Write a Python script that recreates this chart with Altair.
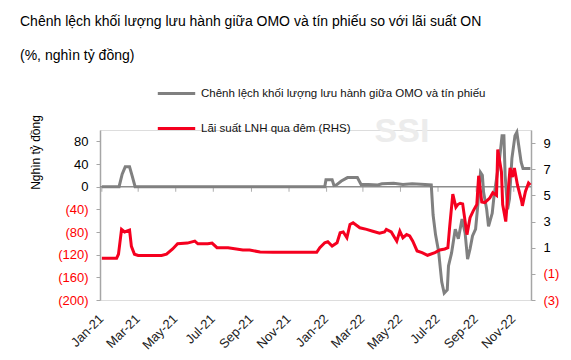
import altair as alt
import pandas as pd

FONT = "Liberation Sans, Arial, sans-serif"

gap_name = "Chênh lệch khối lượng lưu hành giữa OMO và tín phiếu"
rate_name = "Lãi suất LNH qua đêm (RHS)"

gap_dates = [
    "2021-01-01", "2021-01-29", "2021-02-03", "2021-02-08", "2021-02-15", "2021-02-19", "2021-02-24",
    "2021-06-01", "2021-10-01", "2021-12-29", "2021-12-31", "2022-01-10", "2022-01-13", "2022-01-17",
    "2022-01-25", "2022-02-04", "2022-02-20", "2022-02-26", "2022-03-10", "2022-03-25", "2022-04-01",
    "2022-04-20", "2022-05-05", "2022-05-20", "2022-06-10", "2022-06-20", "2022-06-23", "2022-06-27",
    "2022-07-02", "2022-07-07", "2022-07-11", "2022-07-16", "2022-07-18", "2022-07-23", "2022-07-29",
    "2022-08-03", "2022-08-09", "2022-08-14", "2022-08-18", "2022-08-22", "2022-08-26", "2022-08-31",
    "2022-09-03", "2022-09-08", "2022-09-11", "2022-09-13", "2022-09-18", "2022-09-21", "2022-09-27",
    "2022-09-30", "2022-10-04", "2022-10-09", "2022-10-13", "2022-10-16", "2022-10-18", "2022-10-22",
    "2022-10-25", "2022-10-29", "2022-11-03", "2022-11-06", "2022-11-09", "2022-11-13", "2022-11-16",
    "2022-11-23", "2022-11-28",
]
gap_values = [
    0, 0, 22, 35, 35, 20, 0,
    0, 0, 0, 12, 12, 2, 3,
    10, 16, 16, 4, 4, 3, 5,
    6, 4, 5, 4, 3, -50, -85,
    -115, -168, -188, -182, -140, -117, -75,
    -92, -57, -82, -128, -110, -87, -75,
    -40, 25, 20, -10, -40, -70, -47,
    -16, 14, 50, 90, 90, 20, -40,
    -22, 50, 90, 96, 73, 43, 32,
    32, 32,
]

rate_dates = [
    "2021-01-01", "2021-01-25", "2021-01-28", "2021-02-02", "2021-02-07", "2021-02-15", "2021-02-18",
    "2021-02-23", "2021-03-01", "2021-04-08", "2021-04-16", "2021-04-26", "2021-05-04", "2021-05-20",
    "2021-06-01", "2021-06-06", "2021-06-22", "2021-06-29", "2021-07-07", "2021-07-25", "2021-08-18",
    "2021-08-29", "2021-09-15", "2021-10-06", "2021-12-16", "2021-12-21", "2021-12-29", "2022-01-03",
    "2022-01-10", "2022-01-18", "2022-01-23", "2022-01-28", "2022-02-03", "2022-02-08", "2022-02-13",
    "2022-02-24", "2022-03-07", "2022-03-17", "2022-03-28", "2022-04-05", "2022-04-08", "2022-04-16",
    "2022-04-25", "2022-04-30", "2022-05-05", "2022-05-11", "2022-05-16", "2022-05-21", "2022-05-28",
    "2022-06-05", "2022-06-14", "2022-06-26", "2022-07-04", "2022-07-12", "2022-07-17", "2022-07-20",
    "2022-07-25", "2022-07-30", "2022-08-02", "2022-08-06", "2022-08-10", "2022-08-17", "2022-08-22",
    "2022-08-27", "2022-09-02", "2022-09-05", "2022-09-10", "2022-09-15", "2022-09-23", "2022-09-28",
    "2022-10-04", "2022-10-06", "2022-10-12", "2022-10-14", "2022-10-19", "2022-10-22", "2022-10-26",
    "2022-10-30", "2022-11-02", "2022-11-07", "2022-11-14", "2022-11-15", "2022-11-20", "2022-11-25",
    "2022-11-28",
]
rate_values = [
    0.2, 0.2, 0.5, 2.4, 2.2, 2.35, 1.1,
    0.5, 0.4, 0.4, 0.5, 0.9, 1.3, 1.35,
    1.5, 1.3, 1.3, 1.35, 1.0, 1.0, 0.82,
    0.82, 0.67, 0.65, 0.65, 1.0, 1.38, 1.46,
    1.13, 1.38, 2.14, 2.2, 1.76, 2.78, 2.9,
    2.52, 2.4, 2.26, 2.1, 2.2, 2.4, 2.2,
    1.5, 2.27, 1.76, 2.0, 1.9, 1.5, 0.75,
    0.62, 0.42, 0.62, 0.82, 0.9, 1.0, 2.65,
    5.1, 4.1, 4.3, 4.4, 4.35, 2.0, 3.3,
    3.8, 4.3, 6.5, 4.5, 4.45, 4.8, 5.2,
    5.0, 8.5, 6.8, 4.3, 3.0, 4.8, 7.1,
    6.4, 7.1, 5.8, 4.5, 4.2, 5.3, 5.95,
    5.8,
]

tick_dates = ["2021-01-01", "2021-03-01", "2021-05-01", "2021-07-01", "2021-09-01", "2021-11-01",
              "2022-01-01", "2022-03-01", "2022-05-01", "2022-07-01", "2022-09-01", "2022-11-01"]
left_ticks = [-200, -160, -120, -80, -40, 0, 40, 80]
right_ticks = [-3, -1, 1, 3, 5, 7, 9]

gap_df = pd.DataFrame({"date": pd.to_datetime(gap_dates), "value": gap_values, "series": gap_name})
rate_df = pd.DataFrame({"date": pd.to_datetime(rate_dates), "value": rate_values, "series": rate_name})
tick_df = pd.DataFrame({"date": pd.to_datetime(tick_dates), "value": 0})
zero_df = pd.DataFrame({"value": [0]})
mark_df = pd.DataFrame({"t": ["SSI"]})

x_scale = alt.Scale(domain=[alt.DateTime(year=2020, month=12, date=29),
                            alt.DateTime(year=2022, month=11, date=29)])
x_axis = alt.Axis(
    values=[alt.DateTime(year=int(d[:4]), month=int(d[5:7]), date=1) for d in tick_dates],
    format="%b-%y", labelAngle=-45, domain=False, ticks=False, grid=False, title=None,
    labelFontSize=13, labelColor="#222222", labelFont=FONT, labelPadding=12, labelOffset=-5,
    labelOverlap=False,
)
x_enc = alt.X("date:T", scale=x_scale, axis=x_axis)

color_scale = alt.Scale(domain=[gap_name, rate_name], range=["#808080", "#f5001f"])
legend = alt.Legend(
    orient="none", legendX=56, legendY=-57, title=None, symbolType="stroke",
    symbolSize=1400, symbolStrokeWidth=3, labelFontSize=11.5, labelFont=FONT,
    labelLimit=500, rowPadding=8, labelOffset=4, padding=0, labelColor="#111111",
)

label_expr = "datum.value < 0 ? '(' + format(-datum.value, 'd') + ')' : format(datum.value, 'd')"
neg_red = alt.condition("datum.value < 0", alt.value("#ff0000"), alt.value("#000000"))

left_axis = alt.Axis(
    values=left_ticks, title="Nghìn tỷ đồng", labelExpr=label_expr, labelColor=neg_red,
    grid=False, domainColor="#a6a6a6", domainWidth=1.5, tickColor="#a6a6a6", tickSize=4,
    labelFontSize=13, labelFont=FONT, labelPadding=8, labelOverlap=False,
    titleFont=FONT, titleFontSize=12, titleFontWeight="normal", titleColor="#000000",
    titleX=-65, titleY=22, titleAngle=-90, titleAlign="center", titleBaseline="middle",
)
left_y = alt.Y("value:Q", scale=alt.Scale(domain=[-200, 100], nice=False, zero=False), axis=left_axis)

watermark = alt.Chart(mark_df).mark_text(
    font=FONT, fontSize=34, fontWeight="bold", color="#ececec", baseline="middle", align="center"
).encode(x=alt.value(302), y=alt.value(2), text="t:N")

zero_line = alt.Chart(zero_df).mark_rule(color="#8c8c8c", strokeWidth=1.5).encode(y=left_y)
ticks = alt.Chart(tick_df).mark_tick(orient="vertical", color="#8c8c8c", size=5, thickness=1, yOffset=2.5).encode(
    x=x_enc, y=left_y
)
gap_line = alt.Chart(gap_df).mark_line(strokeWidth=3).encode(
    x=x_enc, y=left_y,
    color=alt.Color("series:N", scale=color_scale, legend=legend),
)
left = alt.layer(zero_line, ticks, gap_line)

rate_line = alt.Chart(rate_df).mark_line(strokeWidth=3).encode(
    x=x_enc,
    y=alt.Y("value:Q", scale=alt.Scale(domain=[-3, 10], nice=False, zero=False),
            axis=alt.Axis(orient="right", values=right_ticks, title=None, labelExpr=label_expr,
                          labelColor=neg_red, grid=False, domainColor="#a6a6a6", domainWidth=1.5,
                          tickColor="#a6a6a6", tickSize=4, labelFontSize=13, labelFont=FONT,
                          labelPadding=8, labelOverlap=False)),
    color=alt.Color("series:N", scale=color_scale, legend=legend),
)

chart = alt.layer(watermark, left, rate_line).resolve_scale(y="independent").properties(
    width=431, height=170,
    autosize=alt.AutoSizeParams(type="none"),
    padding={"left": 92, "top": 122, "right": 32, "bottom": 52},
    title=alt.TitleParams(
        text=["Chênh lệch khối lượng lưu hành giữa OMO và tín phiếu so với lãi suất ON", "(%, nghìn tỷ đồng)"],
        anchor="start", dx=-80, frame="group", offset=10, lineHeight=34, fontSize=14,
        font=FONT, fontWeight="normal", color="#000000",
    ),
).configure_view(stroke=None).configure(background="white")

chart.save("out.html", embed_options={"renderer": "svg", "actions": False})
